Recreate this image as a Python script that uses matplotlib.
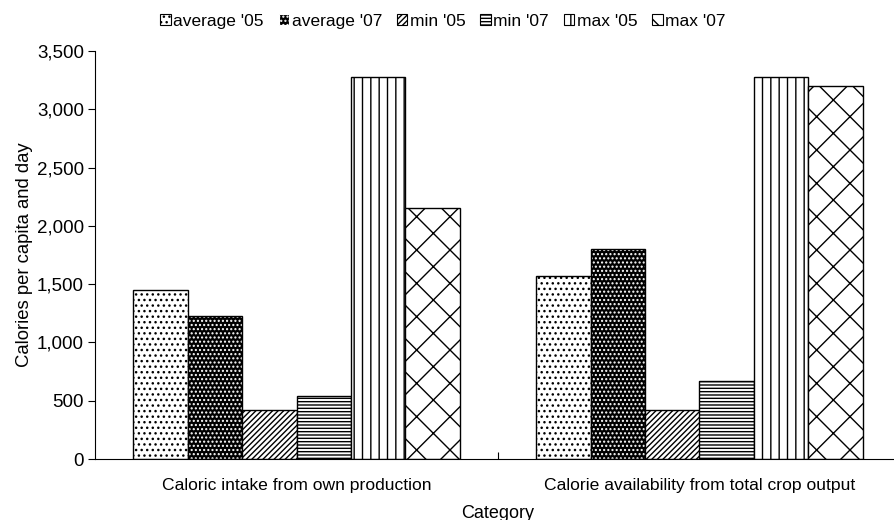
import numpy as np
import matplotlib
matplotlib.use("Agg")
import matplotlib.pyplot as plt
from matplotlib.patches import Patch
from matplotlib.ticker import FuncFormatter

plt.rcParams['font.family'] = ['Liberation Sans', 'DejaVu Sans']

categories = ["Caloric intake from own production", "Calorie availability from total crop output"]
series = ["average '05", "average '07", "min '05", "min '07", "max '05", "max '07"]
avg_05 = [1450, 1570]
avg_07 = [1230, 1800]
min_05 = [420, 420]
min_07 = [540, 670]
max_05 = [3275, 3280]
max_07 = [2150, 3200]
values = [avg_05, avg_07, min_05, min_07, max_05, max_07]

# (facecolor, hatch, hatch colour)
styles = [
    ("white", "...", "black"),
    ("black", "....", "white"),
    ("white", "//////", "black"),
    ("white", "-----", "black"),
    ("white", "||", "black"),
    ("white", "x", "black"),
]

fig = plt.figure(figsize=(8.94, 5.2), dpi=100)
ax = fig.add_axes([95 / 894, 1 - 459 / 520, (901 - 95) / 894, (459 - 51) / 520])

x = np.arange(len(categories))
w = 0.135
for i, (vals, (fc, hatch, hc)) in enumerate(zip(values, styles)):
    pos = x + (i - 2.5) * w
    ax.bar(pos, vals, w, color=fc, hatch=hatch, edgecolor=hc, linewidth=0)
    ax.bar(pos, vals, w, fill=False, edgecolor="black", linewidth=1)

ax.set_xlim(-0.5, 1.5)
ax.set_ylim(0, 3500)
ax.set_yticks(range(0, 3501, 500))
ax.yaxis.set_major_formatter(FuncFormatter(lambda v, p: f"{int(v):,}"))
ax.set_xticks([0.5])
ax.set_xticklabels([""])
ax.set_xticks(x, minor=True)
ax.set_xticklabels(categories, minor=True, fontsize=12.6)
ax.tick_params(axis="x", which="minor", length=0, pad=14)
ax.tick_params(axis="x", which="major", length=5, direction="in")
ax.tick_params(axis="y", length=5, direction="out", labelsize=13.5, pad=3)
ax.spines["top"].set_visible(False)
ax.spines["right"].set_visible(False)
ax.set_ylabel("Calories per capita and day", fontsize=13.3, labelpad=3)
ax.set_xlabel("Category", fontsize=13, labelpad=8)

handles = []
for fc, hatch, hc in styles:
    handles.append(Patch(facecolor=fc, hatch=hatch, edgecolor=hc if fc == "black" else "black", linewidth=0.8))
fig.legend(handles, series, loc="upper center", bbox_to_anchor=(443 / 894, 1.003), ncol=6, frameon=False,
           fontsize=12.5, handlelength=0.6, handleheight=0.6, handletextpad=0.15, columnspacing=0.85)

fig.savefig("out.png", dpi=100)
